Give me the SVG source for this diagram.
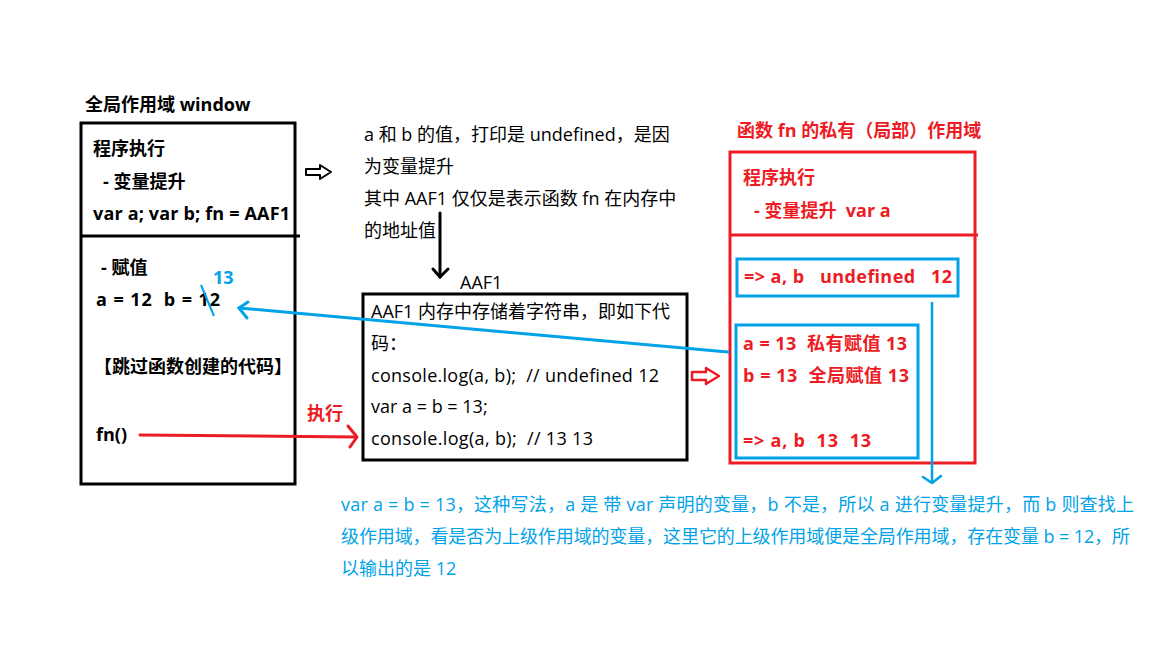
<svg xmlns="http://www.w3.org/2000/svg" width="1152" height="648" viewBox="0 0 1152 648">
<style>
text{font-family:"Open Sans","Noto Sans CJK SC",sans-serif;font-size:18px;}
.b{font-weight:700;}
.k{fill:#000;}
.r{fill:#ed1c24;}
.u{fill:#00a2e8;}
.bx{fill:none;stroke:#000;stroke-width:3;}
.rbx{fill:none;stroke:#ed1c24;stroke-width:3;}
.ubx{fill:none;stroke:#00a2e8;stroke-width:3;}
</style>
<rect width="1152" height="648" fill="#fff"/>
<g id="global-scope">
<text class="b k" x="85" y="111">全局作用域 window</text>
<rect class="bx" x="81" y="123" width="214" height="361"/>
<line x1="81" y1="236" x2="300" y2="236" stroke="#000" stroke-width="3"/>
<text class="b k" x="93" y="155">程序执行</text>
<text class="b k" x="103" y="188">- 变量提升</text>
<text class="b k" x="93" y="220" textLength="197" lengthAdjust="spacing">var a; var b; fn = AAF1</text>
<text class="b k" x="101" y="274">- 赋值</text>
<text class="b k" x="96" y="306" xml:space="preserve" textLength="124" lengthAdjust="spacing">a = 12  b = 12</text>
<text class="b u" x="213" y="284">13</text>
<line x1="201" y1="285" x2="214" y2="316" stroke="#00a2e8" stroke-width="2"/>
<text class="b k" x="94" y="373">【跳过函数创建的代码】</text>
<text class="b k" x="96" y="441">fn()</text>
</g>
<g id="note">
<text class="k" x="364" y="141">a 和 b 的值，打印是 undefined，是因</text>
<text class="k" x="364" y="173">为变量提升</text>
<text class="k" x="364" y="205">其中 AAF1 仅仅是表示函数 fn 在内存中</text>
<text class="k" x="364" y="237">的地址值</text>
</g>
<g id="aaf1">
<text class="k" x="460" y="289">AAF1</text>
<rect class="bx" x="363" y="294" width="324" height="166"/>
<text class="k" x="371" y="318">AAF1 内存中存储着字符串，即如下代</text>
<text class="k" x="371" y="350">码：</text>
<text class="k" x="371" y="382" xml:space="preserve" textLength="288" lengthAdjust="spacing">console.log(a, b);  // undefined 12</text>
<text class="k" x="371" y="413">var a = b = 13;</text>
<text class="k" x="371" y="445" xml:space="preserve" textLength="222" lengthAdjust="spacing">console.log(a, b);  // 13 13</text>
</g>
<g id="fn-scope">
<text class="b r" x="737" y="137">函数 fn 的私有（局部）作用域</text>
<rect class="rbx" x="730" y="152" width="245" height="311"/>
<line x1="730" y1="235" x2="978" y2="235" stroke="#ed1c24" stroke-width="3"/>
<text class="b r" x="743" y="184">程序执行</text>
<text class="b r" x="754" y="217" xml:space="preserve">- 变量提升  var a</text>
</g>
<g id="output1">
<rect class="ubx" x="737" y="259" width="221" height="37"/>
<text class="b r" x="744" y="283" xml:space="preserve" textLength="208" lengthAdjust="spacing">=&gt; a, b   undefined   12</text>
</g>
<g id="assign">
<rect class="ubx" x="736" y="325" width="182" height="133"/>
<text class="b r" x="743" y="350" xml:space="preserve" textLength="164" lengthAdjust="spacing">a = 13  私有赋值 13</text>
<text class="b r" x="743" y="382" xml:space="preserve" textLength="166" lengthAdjust="spacing">b = 13  全局赋值 13</text>
<text class="b r" x="743" y="447" xml:space="preserve" textLength="128" lengthAdjust="spacing">=&gt; a, b  13  13</text>
</g>
<g id="explain">
<text class="u" x="341" y="511" textLength="793" lengthAdjust="spacing">var a = b = 13，这种写法，a 是 带 var 声明的变量，b 不是，所以 a 进行变量提升，而 b 则查找上</text>
<text class="u" x="341" y="543" textLength="789" lengthAdjust="spacing">级作用域，看是否为上级作用域的变量，这里它的上级作用域便是全局作用域，存在变量 b = 12，所</text>
<text class="u" x="341" y="575">以输出的是 12</text>
</g>
<g id="connectors" fill="none" stroke-linecap="round" stroke-linejoin="round">
<polygon points="306,169 320,169 320,165 331,172 320,179 320,175 306,175" fill="#fff" stroke="#000" stroke-width="2"/>
<line x1="440" y1="213" x2="440" y2="277" stroke="#000" stroke-width="3"/>
<polyline points="433,269 440,277 448,269" stroke="#000" stroke-width="3"/>
<line x1="140" y1="435" x2="356" y2="437" stroke="#ed1c24" stroke-width="3"/>
<polyline points="348,426 357,437 350,447" stroke="#ed1c24" stroke-width="3"/>
<text class="b r" x="307" y="420" stroke="none">执行</text>
<line x1="728" y1="352" x2="239" y2="308" stroke="#00a2e8" stroke-width="3"/>
<polyline points="248,302 239,308 247,318" stroke="#00a2e8" stroke-width="3"/>
<polygon points="692,372 706,372 706,368 719,376 706,384 706,380 692,380" fill="#fff" stroke="#ed1c24" stroke-width="2.5"/>
<line x1="932" y1="303" x2="932" y2="482" stroke="#00a2e8" stroke-width="2.5"/>
<polyline points="923,477 932,483 941,476" stroke="#00a2e8" stroke-width="2.5"/>
</g>
</svg>
